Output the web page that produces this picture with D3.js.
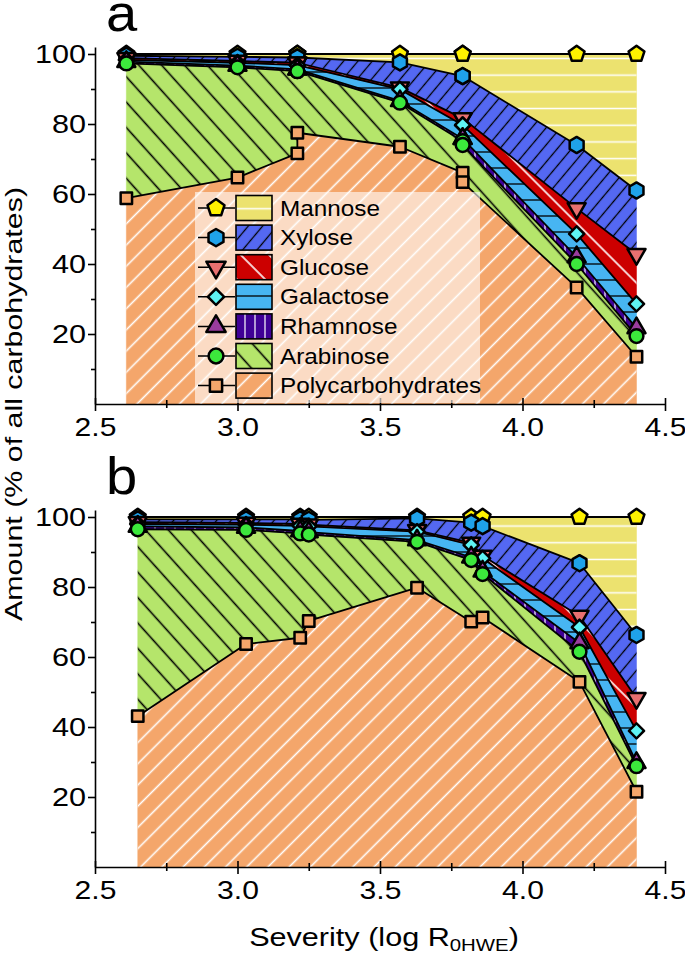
<!DOCTYPE html>
<html>
<head>
<meta charset="utf-8">
<script src="https://cdn.jsdelivr.net/npm/d3@7"></script>
<style>
  body { margin: 0; background: #fff; }
  svg { display: block; font-family: "Liberation Sans", Arial, sans-serif; }
</style>
</head>
<body>
<div id="chart"></div>
<script>
// tick labels
var xTicks = [2.5, 3.0, 3.5, 4.0, 4.5];
var xMinor = [2.75, 3.25, 3.75, 4.25];
var yTicks = [20, 40, 60, 80, 100];
var yMinor = [10, 30, 50, 70, 90];

// panel a -- cumulative top of each layer (% of all carbohydrates)
var xA    = [2.61, 3.0, 3.21, 3.21, 3.57, 3.79, 3.79, 4.19, 4.4];
var polyA = [58.8, 64.7, 71.6, 77.5, 73.5, 66.1, 63.4, 33.3, 13.5];
var araA  = [97.3, 96.2, 95.1, 95.1, 86.1, 75.1, 74.0, 40.0, 19.4];
var rhaA  = [97.8, 96.7, 95.6, 95.6, 86.6, 75.8, 75.8, 42.0, 21.7];
var galA  = [98.3, 97.5, 96.8, 96.8, 89.9, 79.7, 79.7, 48.6, 28.6];
var gluA  = [98.8, 98.0, 97.5, 97.5, 90.4, 81.6, 81.6, 55.9, 42.8];
var xylA  = [99.5, 99.2, 99.0, 99.0, 97.6, 93.7, 93.7, 74.0, 61.0];
var manA  = [100, 100, 100, 100, 100, 100, 100, 100, 100];

// panel b
var xB    = [2.65, 3.03, 3.22, 3.25, 3.63, 3.82, 3.86, 4.2, 4.4];
var polyB = [43.1, 63.7, 65.5, 70.3, 79.8, 70.1, 71.3, 52.9, 21.5];
var araB  = [96.5, 96.3, 95.3, 95.0, 92.9, 87.7, 83.7, 61.5, 28.8];
var rhaB  = [97.3, 97.0, 96.0, 95.7, 93.4, 88.5, 84.5, 64.0, 29.8];
var galB  = [98.0, 97.8, 97.5, 97.3, 95.8, 92.0, 88.2, 68.5, 38.9];
var gluB  = [98.5, 98.3, 98.0, 97.8, 96.2, 92.6, 88.9, 71.7, 48.2];
var xylB  = [99.3, 99.3, 99.3, 99.2, 99.6, 98.4, 97.4, 86.8, 66.3];
var manB  = [100, 100, 100, 100, 100, 100, 100, 100, 100];

var pentagon = {
  draw: function(ctx, size) {
    var r = Math.sqrt(size) * 0.62;
    for (var i = 0; i < 5; i++) {
      var a = -Math.PI / 2 + i * 2 * Math.PI / 5;
      if (i == 0) ctx.moveTo(r * Math.cos(a), r * Math.sin(a));
      else ctx.lineTo(r * Math.cos(a), r * Math.sin(a));
    }
    ctx.closePath();
  }
};
var hexagon = {
  draw: function(ctx, size) {
    var r = Math.sqrt(size) * 0.6;
    for (var i = 0; i < 6; i++) {
      var a = -Math.PI / 2 + i * Math.PI / 3;
      if (i == 0) ctx.moveTo(r * Math.cos(a), r * Math.sin(a));
      else ctx.lineTo(r * Math.cos(a), r * Math.sin(a));
    }
    ctx.closePath();
  }
};

// layers bottom to top
var layers = [
  { name: "Polycarbohydrates", key: "poly", fill: "#F4A66B", line: "#fff", angle: 45, gap: 15, lw: 1.6,
    sym: d3.symbolSquare, size: 130, rot: 0, mfill: "#F4A66B" },
  { name: "Arabinose", key: "ara", fill: "#B5E56B", line: "#000", angle: -42, gap: 17, lw: 1.6,
    sym: d3.symbolCircle, size: 150, rot: 0, mfill: "#3CE83C" },
  { name: "Rhamnose", key: "rha", fill: "#3F0096", line: "#fff", angle: 0, gap: 10, lw: 1.2,
    sym: d3.symbolTriangle, size: 140, rot: 0, mfill: "#9A3C9E" },
  { name: "Galactose", key: "gal", fill: "#47B5F2", line: "#000", angle: 90, gap: 16, lw: 1.3,
    sym: d3.symbolSquare, size: 115, rot: 45, mfill: "#5EF4F4" },
  { name: "Glucose", key: "glu", fill: "#CC0000", line: "#fff", angle: -45, gap: 20, lw: 1.6,
    sym: d3.symbolTriangle, size: 140, rot: 180, mfill: "#E87070" },
  { name: "Xylose", key: "xyl", fill: "#5468F2", line: "#000", angle: 40, gap: 11, lw: 1.3,
    sym: hexagon, size: 180, rot: 0, mfill: "#1FA2EA" },
  { name: "Mannose", key: "man", fill: "#ECE26F", line: "#fff", angle: 90, gap: 16.7, lw: 1.5,
    sym: pentagon, size: 180, rot: 0, mfill: "#FFF200" }
];

var svg = d3.select("#chart").append("svg").attr("width", 685).attr("height", 960);
var defs = svg.append("defs");

layers.forEach(function(l) {
  var p = defs.append("pattern").attr("id", "pat-" + l.key)
    .attr("patternUnits", "userSpaceOnUse")
    .attr("width", l.gap).attr("height", l.gap)
    .attr("patternTransform", "rotate(" + l.angle + ")");
  p.append("line").attr("x1", l.gap / 2).attr("x2", l.gap / 2)
    .attr("y1", -1).attr("y2", l.gap + 1)
    .attr("stroke", l.line).attr("stroke-width", l.lw);
});

var x = d3.scaleLinear().domain([2.5, 4.5]).range([95, 665]);

function marker(sel, l, px, py, scale) {
  sel.append("path")
    .attr("d", d3.symbol().type(l.sym).size(l.size * (scale || 1))())
    .attr("transform", "translate(" + px + "," + py + ") rotate(" + l.rot + ")")
    .attr("fill", l.mfill).attr("stroke", "#000").attr("stroke-width", 2.5)
    .attr("stroke-linejoin", "round");
}

function panel(xs, series, yBottom, letter) {
  var y = d3.scaleLinear().domain([0, 100]).range([yBottom, yBottom - 350]);
  var g = svg.append("g");

  // stacked areas
  series.forEach(function(s, i) {
    var lower = i == 0 ? xs.map(function() { return 0; }) : series[i - 1];
    var area = d3.area()
      .x(function(d, j) { return x(xs[j]); })
      .y0(function(d, j) { return y(lower[j]); })
      .y1(function(d, j) { return y(s[j]); });
    g.append("path").datum(s).attr("d", area).attr("fill", layers[i].fill)
      .attr("stroke", layers[i].fill).attr("stroke-width", 0.5);
    g.append("path").datum(s).attr("d", area).attr("fill", "url(#pat-" + layers[i].key + ")");
  });

  // boundary lines
  series.forEach(function(s) {
    var line = d3.line()
      .x(function(d, j) { return x(xs[j]); })
      .y(function(d) { return y(d); });
    g.append("path").datum(s).attr("d", line).attr("fill", "none")
      .attr("stroke", "#000").attr("stroke-width", 1.8).attr("stroke-linejoin", "round");
  });

  // axes
  var yAxisScale = y.copy().domain([0, 102]).range([yBottom, y(102)]);
  var gy = g.append("g").attr("transform", "translate(95,0)")
    .call(d3.axisLeft(yAxisScale).tickValues(yTicks).tickSize(7).tickSizeOuter(0));
  gy.append("g").call(d3.axisLeft(yAxisScale).tickValues(yMinor).tickSize(4).tickFormat("").tickSizeOuter(0))
    .select(".domain").remove();
  var gx = g.append("g").attr("transform", "translate(0," + yBottom + ")")
    .call(d3.axisBottom(x).tickValues(xTicks).tickFormat(d3.format(".1f")).tickSize(7).tickSizeOuter(0));
  gx.selectAll(".tick line").attr("y1", -6);
  var gxm = gx.append("g")
    .call(d3.axisBottom(x).tickValues(xMinor).tickSize(4).tickFormat("").tickSizeOuter(0));
  gxm.select(".domain").remove();
  gxm.selectAll(".tick line").attr("y1", -4);

  [gy, gx].forEach(function(a) {
    a.attr("font-family", null).attr("font-size", null);
    a.selectAll(".domain, .tick line").attr("stroke", "#000").attr("stroke-width", 1.6);
  });
  gy.selectAll(".tick text").attr("font-size", 25.5).attr("fill", "#000")
    .attr("x", -9 / 1.2).attr("transform", "scale(1.2,1)");
  gx.selectAll(".tick text").attr("font-size", 25.5).attr("fill", "#000")
    .attr("transform", "scale(1.18,1)").attr("dy", "0.71em").attr("y", 14);

  // markers, top layer first so lower ones sit on top
  for (var i = series.length - 1; i >= 0; i--) {
    var mg = g.append("g");
    series[i].forEach(function(v, j) {
      marker(mg, layers[i], x(xs[j]), y(v));
    });
  }

  // panel letter
  g.append("text").attr("transform", "translate(106," + (yBottom - 373) + ") scale(1.1,1)")
    .attr("font-size", 51).text(letter);

  return { g: g, y: y };
}

var pa = panel(xA, [polyA, araA, rhaA, galA, gluA, xylA, manA], 404, "a");
var pb = panel(xB, [polyB, araB, rhaB, galB, gluB, xylB, manB], 867, "b");

// legend in panel a
var leg = pa.g.append("g");
leg.append("rect").attr("x", 195).attr("y", 192).attr("width", 285).attr("height", 211)
  .attr("fill", "#fff").attr("opacity", 0.6);
var rowY = d3.scalePoint().domain(d3.range(7)).range([208, 385.6]);
layers.slice().reverse().forEach(function(l, k) {
  var ry = rowY(k);
  leg.append("line").attr("x1", 198).attr("x2", 235).attr("y1", ry).attr("y2", ry)
    .attr("stroke", "#000").attr("stroke-width", 1.5);
  marker(leg, l, 216, ry, 1.15);
  leg.append("rect").attr("x", 236).attr("y", ry - 12.5).attr("width", 36).attr("height", 25)
    .attr("fill", l.fill);
  leg.append("rect").attr("x", 236).attr("y", ry - 12.5).attr("width", 36).attr("height", 25)
    .attr("fill", "url(#pat-" + l.key + ")").attr("stroke", "#000").attr("stroke-width", 1.6);
  leg.append("text").attr("transform", "translate(280," + (ry + 7.5) + ") scale(1.13,1)")
    .attr("font-size", 21.5).text(l.name);
});

// axis titles
svg.append("text")
  .attr("transform", "translate(22,404) rotate(-90)")
  .attr("text-anchor", "middle").attr("font-size", 24)
  .attr("textLength", 434).attr("lengthAdjust", "spacingAndGlyphs")
  .text("Amount (% of all carbohydrates)");

var xt = svg.append("text")
  .attr("transform", "translate(384,946) scale(1.2,1)")
  .attr("text-anchor", "middle").attr("font-size", 25.5);
xt.append("tspan").text("Severity (log R");
xt.append("tspan").attr("font-size", 17).attr("dy", 5).text("0HWE");
xt.append("tspan").attr("dy", -5).text(")");
</script>
</body>
</html>
